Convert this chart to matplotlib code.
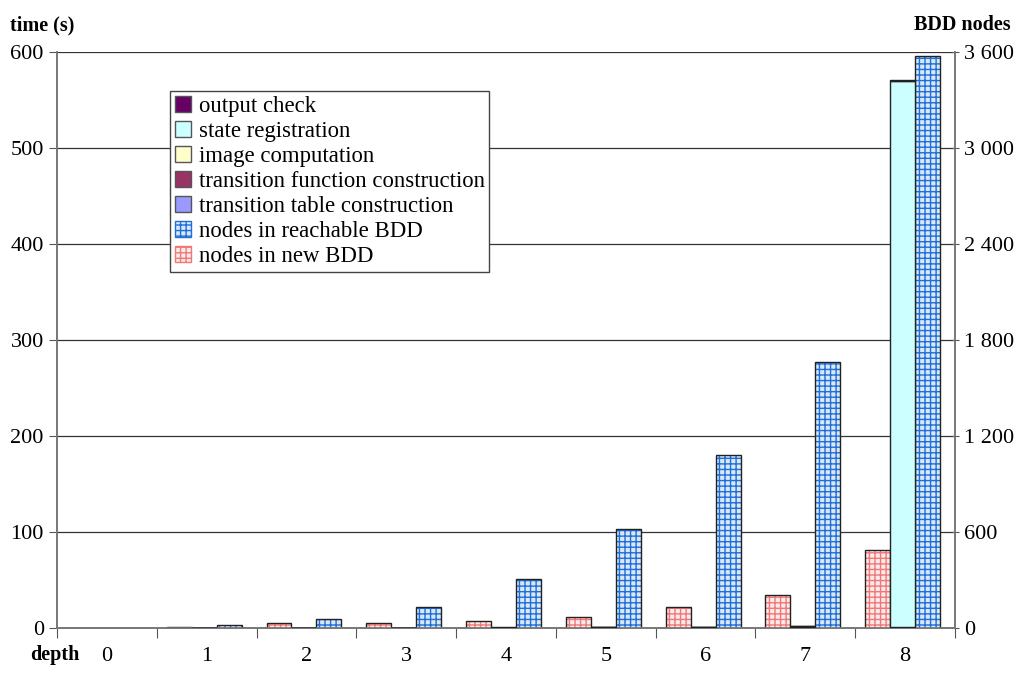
import matplotlib
matplotlib.use("Agg")
import matplotlib.pyplot as plt
from matplotlib.patches import Patch
from matplotlib.ticker import FuncFormatter
import numpy as np

plt.rcParams['font.family'] = ['Liberation Serif', 'DejaVu Serif']
plt.rcParams['hatch.linewidth'] = 1.0

# datos
depth = [0, 1, 2, 3, 4, 5, 6, 7, 8]
new_nodes = [0, 8, 33, 33, 46, 66, 129, 208, 486]
reach_nodes = [0, 19, 56, 130, 306, 617, 1081, 1662, 3572]

t_table = [0, 0.05, 0.05, 0.05, 0.05, 0.1, 0.1, 0.1, 0.2]
t_func = [0, 0.1, 0.1, 0.1, 0.1, 0.2, 0.2, 0.3, 0.3]
t_image = [0, 0.05, 0.1, 0.1, 0.2, 0.3, 0.5, 0.6, 1.0]
t_state = [0, 0.02, 0.05, 0.1, 0.2, 0.4, 0.6, 0.8, 568]
t_output = [0, 0, 0, 0, 0, 0.01, 0.02, 0.02, 1.0]

time_parts = [
    ("transition table construction", t_table, "#9999ff"),
    ("transition function construction", t_func, "#993366"),
    ("image computation", t_image, "#ffffcc"),
    ("state registration", t_state, "#ccffff"),
    ("output check", t_output, "#660066"),
]

fig = plt.figure(figsize=(10.21, 6.77), dpi=100)
ax = fig.add_axes([0.0558, 0.0724, 0.8796, 0.8508])
ax2 = ax.twinx()

x = np.array(depth)
w = 0.25

# barra apilada de tiempos (centro), solo donde hay algo
bottom = np.zeros(len(depth))
for name, vals, col in time_parts:
    v = np.array(vals, dtype=float)
    m = v > 0
    ax.bar(x[m] - 0.025, v[m], w, bottom=bottom[m], color=col, edgecolor="#222222",
           linewidth=1.0, zorder=3)
    bottom += v

# nodos BDD (eje derecho)
nn = np.array(new_nodes)
rn = np.array(reach_nodes)
mn = nn > 0
mr = rn > 0
ax2.bar(x[mn] - 0.275, nn[mn], w, color="#fdeaea", edgecolor="#f07878",
        hatch="+++", linewidth=0, zorder=3)
ax2.bar(x[mn] - 0.275, nn[mn], w, fill=False, edgecolor="#222222", linewidth=1.0, zorder=4)
ax2.bar(x[mr] + 0.225, rn[mr], w, color="#d8e8fa", edgecolor="#1f6fd6",
        hatch="+++", linewidth=0, zorder=3)
ax2.bar(x[mr] + 0.225, rn[mr], w, fill=False, edgecolor="#222222", linewidth=1.0, zorder=4)

ax.set_xlim(-0.5, 8.5)
ax.set_ylim(0, 600)
ax2.set_ylim(0, 3600)
ax.set_yticks(range(0, 601, 100))
ax2.set_yticks(range(0, 3601, 600))
ax2.yaxis.set_major_formatter(FuncFormatter(lambda v, p: f"{int(v):,}".replace(",", " ")))

ax.set_xticks(np.arange(-0.5, 9, 1))
ax.set_xticklabels([])
ax.set_xticks(x, [str(d) for d in depth], minor=True)
ax.tick_params(axis='x', which='major', length=7, direction='out', color='#555555')
ax.tick_params(axis='x', which='minor', length=0, pad=14, labelsize=16)
ax.tick_params(axis='y', length=6, direction='out', labelsize=16, color='#555555')
ax2.tick_params(axis='y', length=6, direction='inout', labelsize=16, color='#555555')

# rejilla en el eje de atras para que quede detras de las barras
ax2.grid(axis='y', color='#333333', linewidth=0.9, zorder=0)
ax2.set_axisbelow(True)
ax2.set_zorder(ax.get_zorder() - 1)
ax.patch.set_visible(False)
for a in (ax, ax2):
    a.spines['top'].set_visible(False)
    for s in ('left', 'right', 'bottom'):
        a.spines[s].set_color('#777777')
        a.spines[s].set_linewidth(1.2)

fig.text(0.01, 0.963, "time (s)", fontsize=14.5, fontweight='bold', va='center')
fig.text(0.99, 0.963, "BDD nodes", fontsize=14.5, fontweight='bold', va='center', ha='right')
fig.text(0.054, 0.018, "depth", fontsize=14.5, fontweight='bold', va='bottom', ha='center')

handles = [Patch(facecolor="#660066", edgecolor="#555555"),
           Patch(facecolor="#ccffff", edgecolor="#555555"),
           Patch(facecolor="#ffffcc", edgecolor="#555555"),
           Patch(facecolor="#993366", edgecolor="#555555"),
           Patch(facecolor="#9999ff", edgecolor="#555555"),
           Patch(facecolor="#d8e8fa", edgecolor="#1f6fd6", hatch="+++"),
           Patch(facecolor="#fdeaea", edgecolor="#f07878", hatch="+++")]
labels = ["output check", "state registration", "image computation",
          "transition function construction", "transition table construction",
          "nodes in reachable BDD", "nodes in new BDD"]
leg = ax.legend(handles, labels, loc='upper left', bbox_to_anchor=(0.126, 0.932),
                borderaxespad=0, fontsize=16.4, fancybox=False, framealpha=1,
                edgecolor='#444444', handlelength=0.7, handleheight=0.7,
                handletextpad=0.35, labelspacing=0.18, borderpad=0.2)
leg.get_frame().set_linewidth(1.0)
leg.set_zorder(10)

fig.savefig("out.png", dpi=100)
